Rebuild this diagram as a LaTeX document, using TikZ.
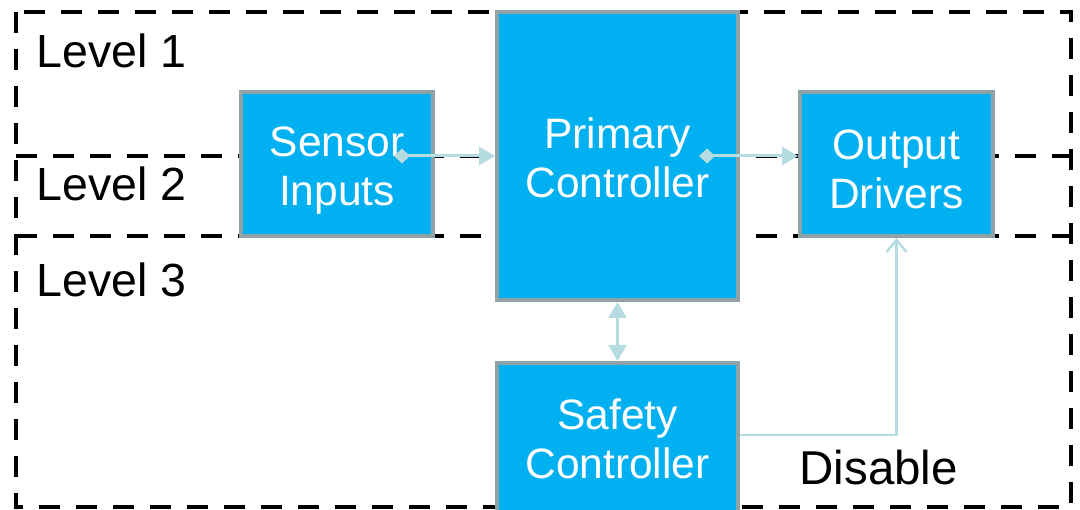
\documentclass[tikz,border=0pt]{standalone}
\usepackage{fontspec}
\setmainfont{Liberation Sans}
\usetikzlibrary{arrows.meta,calc}
\definecolor{boxfill}{HTML}{00B0F0}
\definecolor{boxedge}{HTML}{8FA3A6}
\definecolor{linkcol}{HTML}{B5DCE0}
\tikzset{
  block/.style={draw=boxedge, line width=4pt, fill=boxfill, inner sep=0pt},
  blocktext/.style={text=white, font=\fontsize{42.5}{49}\selectfont, align=center, inner sep=0pt},
  levellabel/.style={anchor=base west, font=\fontsize{46.5}{50}\selectfont},
  zoneline/.style={line width=4pt, dash pattern=on 21pt off 16pt},
  flow/.style={draw=linkcol, line width=3pt},
  tail/.style={{Diamond[length=16pt,width=15pt]}-{Triangle[length=16pt,width=18pt]}},
}
\begin{document}
\begin{tikzpicture}[x=1pt,y=-1pt]
\useasboundingbox (0,0) rectangle (1080,510);

% zone frame and level separators
\coordinate (tl) at (16,12);
\coordinate (br) at (1071,507);
\draw[zoneline] (tl) rectangle (br);
\draw[zoneline] (16,156) -- (1071,156);
\draw[zoneline] (16,236) -- (1071,236);

% level labels
\node[levellabel] (l1) at (33,68) {Level 1};
\node[levellabel] (l2) at (33,201) {Level 2};
\node[levellabel] (l3) at (33,297) {Level 3};

% blocks
\node[block, minimum width=192pt, minimum height=144pt] (sensor) at (337,164) {};
\node[block, minimum width=241pt, minimum height=288pt] (primary) at (617.5,156) {};
\node[block, minimum width=193pt, minimum height=144pt] (output) at (896.5,164) {};
\node[block, minimum width=241pt, minimum height=152pt] (safety) at (617.5,439) {};

\node[blocktext, yshift=-7pt] (sensortext) at (sensor.center) {Sensor\\Inputs};
\node[blocktext, yshift=-2pt] (primarytext) at (primary.center) {Primary\\Controller};
\node[blocktext, yshift=-5pt] (outputtext) at (output.center) {Output\\Drivers};
\node[blocktext] (safetytext) at (safety.center) {Safety\\Controller};

% signal flow
\draw[flow, tail] ($(sensor.east |- primary.west)+(-41,0)$) -- (primary.west);
\draw[flow, tail] ($(primary.east)+(-41,0)$) -- (output.west |- primary.east);
\draw[flow, {Triangle[length=16pt,width=18pt]}-{Triangle[length=16pt,width=18pt]}]
  (primary.south) -- (safety.north);
\draw[flow, line width=2.5pt, -{Straight Barb[length=12pt,width=20pt,line width=2.5pt]}]
  ($(safety.east)+(0,-4)$) -| (output.south);
\node[anchor=base west, font=\fontsize{47.5}{50}\selectfont] (disable) at (796,485) {Disable};
\end{tikzpicture}
\end{document}
